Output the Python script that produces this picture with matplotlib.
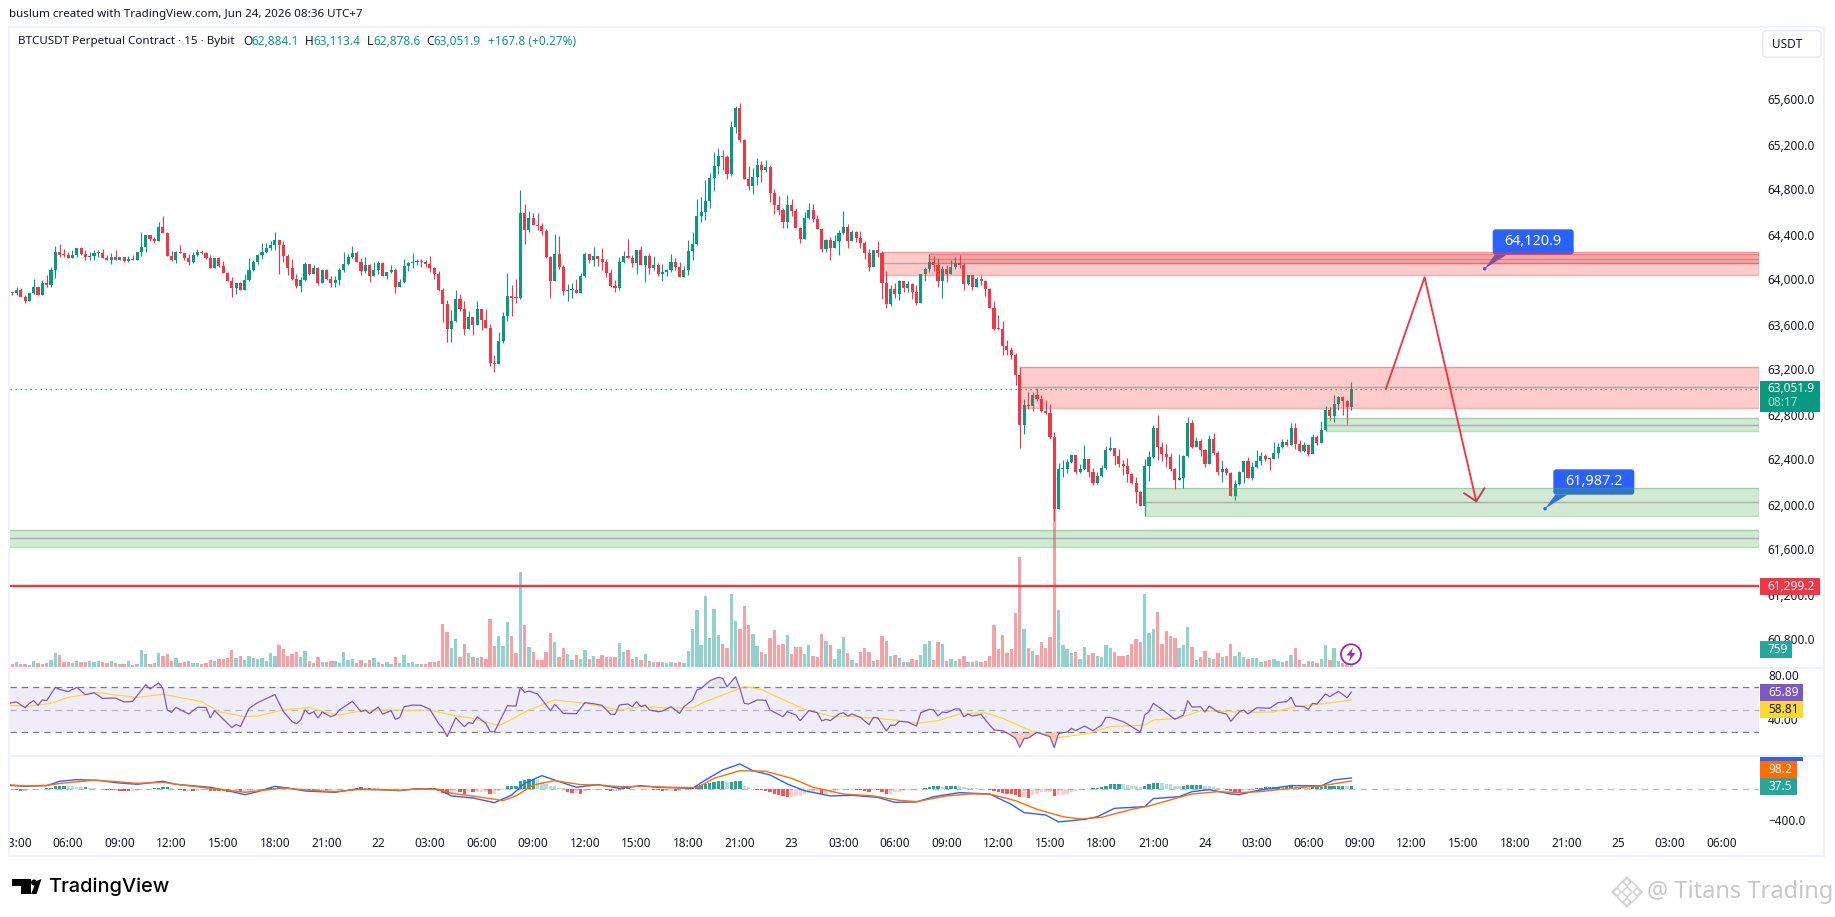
#!/usr/bin/python3
import numpy as np
import matplotlib
matplotlib.use("Agg")
import matplotlib.pyplot as plt
from matplotlib.patches import Rectangle, FancyBboxPatch, Polygon, Circle

plt.rcParams['font.family'] = ['Noto Sans', 'DejaVu Sans']

first_open = 63816
closes = [
 63896,63890,63920,63860,63822,63890,63946,63878,63982,63964,64097,64257,64231,64228,64207,64231,64290,64240,64216,64222,
 64246,64252,64207,64186,64213,64186,64213,64177,64195,64186,64257,64302,64406,64373,64355,64480,64429,64222,64186,64257,
 64246,64204,64169,64231,64257,64249,64204,64115,64204,64133,64071,64000,63937,63982,63920,64009,64097,64169,64231,64257,
 64293,64320,64364,64320,64222,64115,64017,63955,64009,64151,64062,64115,63982,64097,64017,63982,64009,64097,64151,64213,
 64249,64169,64089,64142,64044,64097,64160,64044,64080,64097,63946,63991,64133,64160,64169,64177,64169,64151,64115,64062,
 63920,63795,63573,63644,63840,63751,63573,63680,63609,63751,63653,63582,63271,63265,63466,63689,63866,63849,63845,64607,
 64453,64560,64497,64489,64444,64213,64000,64240,64124,63911,63920,63922,63893,64044,64240,64186,64222,64195,
 64169,64074,63956,63938,64169,64222,64205,64160,64276,64142,64222,64119,64142,64062,64080,64098,64169,64125,64036,64098,
 64267,64329,64578,64614,64711,64916,65022,65111,65102,64951,65369,65538,65254,64907,64845,64925,65031,64987,65014,64782,
 64676,64631,64525,64676,64622,64471,64374,64560,64631,64551,64462,64285,64365,64294,64356,64427,64480,64356,64436,64382,
 64338,64249,64125,64276,64249,63982,63796,63929,63885,64000,63938,63974,63902,63805,64062,64107,64169,64142,64000,64107,
 64062,64125,64160,64142,63974,64054,63947,64018,64000,63929,63760,63573,63570,63422,63387,63342,63165,
 62723,62898,62889,62987,62948,62845,62824,62614,61974,62329,62332,62391,62454,62302,62329,62418,62302,62205,62267,62338,
 62498,62516,62445,62374,62356,62285,62205,62125,62000,62356,62436,62694,62525,62462,62436,62329,62231,62249,62445,62738,
 62525,62578,62498,62374,62596,62471,62302,62329,62294,62089,62196,62302,62400,62249,62347,62400,62445,62418,62415,62471,
 62525,62569,62542,62694,62551,62489,62542,62462,62614,62560,62676,62854,62800,62907,62969,62934,62884.1,63040]
highs = [
 63896,63905,63943,63934,63875,63890,64014,63946,64009,64050,64121,64311,64329,64284,64254,64275,64290,64299,64275,64260,
 64275,64275,64284,64231,64246,64275,64213,64213,64222,64231,64257,64435,64412,64400,64388,64527,64577,64435,64266,64266,
 64320,64249,64240,64257,64284,64275,64257,64231,64204,64213,64177,64080,64035,63982,63991,64062,64204,64186,64240,64337,
 64337,64355,64435,64364,64355,64240,64195,64062,64035,64169,64151,64142,64124,64106,64106,64044,64044,64115,64257,64240,
 64311,64266,64204,64213,64151,64169,64177,64169,64080,64142,64115,64017,64195,64169,64249,64195,64195,64186,64222,64124,
 64089,63937,63831,63742,63920,63884,63822,63733,63680,63822,63751,63751,63617,63342,63546,63724,64071,63964,64017,64809,
 64684,64622,64601,64601,64518,64462,64222,64417,64400,64142,63973,63982,64017,64071,64257,64240,64302,64222,
 64294,64196,64107,64009,64214,64267,64374,64231,64276,64311,64231,64249,64222,64160,64151,64107,64240,64205,64169,64134,
 64365,64436,64729,64747,64898,64960,65147,65182,65165,65120,65422,65556,65582,65262,65022,65005,65094,65067,65076,65031,
 64818,64756,64649,64765,64729,64649,64480,64614,64694,64685,64587,64471,64374,64391,64409,64454,64622,64507,64454,64445,
 64445,64356,64285,64276,64356,64267,64089,63965,63982,64009,64000,64000,63982,63965,64062,64125,64240,64222,64205,64134,
 64142,64187,64214,64231,64160,64054,64054,64036,64054,64009,63938,63822,63698,63645,63476,63413,63360,
 63233,62948,63014,63014,63049,62987,62942,62907,62658,62382,62409,62418,62454,62454,62374,62542,62418,62338,62302,62365,
 62534,62614,62516,62507,62409,62427,62294,62258,62134,62418,62489,62720,62809,62569,62551,62471,62338,62462,62454,62791,
 62765,62614,62596,62507,62631,62649,62489,62409,62347,62302,62231,62311,62400,62436,62391,62498,62480,62462,62436,62569,
 62560,62596,62596,62738,62738,62587,62569,62542,62640,62631,62756,62889,62880,62987,62978,62978,62942,63102]
lows = [
 63816,63875,63875,63854,63807,63825,63887,63878,63878,63949,63949,64026,64210,64216,64207,64207,64216,64231,64186,64186,
 64186,64210,64207,64186,64151,64186,64186,64172,64169,64186,64186,64222,64257,64355,64340,64355,64429,64222,64180,64163,
 64246,64186,64142,64163,64222,64240,64195,64115,64115,64124,64071,64000,63857,63884,63920,63920,64000,64089,64151,64195,
 64249,64275,64275,64062,64169,64053,64009,63937,63902,64000,64053,64062,63964,63982,64009,63946,63946,63964,64080,64142,
 64204,64169,64053,64071,63991,64044,64062,64044,64017,64071,63893,63946,63982,64089,64115,64142,64124,64124,64080,64017,
 63911,63635,63457,63457,63635,63733,63520,63573,63520,63609,63564,63582,63244,63191,63262,63449,63644,63689,63804,63840,
 64329,64435,64497,64453,64409,64204,63849,64000,64106,63875,63822,63849,63893,63893,64035,64160,64133,64133,
 64098,64039,63947,63902,63920,64160,64205,64125,64062,64142,63991,64062,64098,64045,64000,64045,64080,64098,64036,64036,
 64054,64187,64320,64525,64542,64649,64800,64951,64987,64907,64934,65316,65236,64907,64809,64774,64854,64880,64969,64702,
 64596,64587,64471,64471,64578,64471,64338,64374,64551,64525,64462,64258,64258,64187,64294,64231,64418,64294,64356,64347,
 64294,64196,64089,64125,64214,63840,63760,63778,63849,63831,63902,63902,63840,63787,63805,64000,64080,64089,63947,63849,
 63991,64062,64107,64116,63920,63965,63920,63947,63965,63867,63760,63565,63565,63342,63342,63307,63076,
 62516,62640,62862,62848,62934,62833,62818,62596,61867,61974,62261,62294,62382,62285,62294,62320,62258,62187,62196,62258,
 62329,62489,62365,62347,62276,62213,62196,62027,62000,61911,62222,62427,62409,62400,62347,62311,62151,62231,62160,62436,
 62516,62525,62445,62347,62374,62454,62276,62213,62276,62089,62054,62187,62205,62249,62231,62338,62365,62400,62320,62418,
 62427,62516,62534,62542,62507,62480,62480,62445,62462,62542,62560,62667,62765,62747,62854,62809,62729,62850]
volume = [
 8,10,16,10,10,6,19,13,10,13,22,43,37,16,16,13,19,16,16,19,16,18,16,13,19,13,10,10,19,7,
 10,52,40,10,13,43,34,40,19,28,13,16,19,13,13,10,13,22,19,25,25,28,52,28,34,22,34,28,25,28,
 19,43,34,67,55,34,40,46,31,49,19,13,31,16,16,19,19,13,46,22,25,13,22,13,22,28,16,10,16,10,
 31,13,37,13,16,10,10,10,16,16,19,130,106,58,85,31,70,43,31,28,31,25,145,64,94,64,136,94,43,286,
 127,61,46,22,22,46,103,76,31,58,40,22,37,25,52,25,34,25,37,31,31,31,73,46,52,25,31,22,40,19,
 16,16,16,13,16,13,16,13,49,115,172,67,214,88,175,97,70,58,220,139,115,184,127,100,64,46,40,88,112,67,
 70,97,40,61,61,40,67,34,31,100,79,67,25,55,91,43,22,13,46,58,46,19,22,94,79,34,37,28,16,16,
 25,22,37,70,79,22,76,70,19,25,19,25,34,16,16,19,16,19,34,127,55,97,43,55,163,330,115,58,49,37,
 76,58,91,480,172,67,55,43,46,25,61,37,43,34,31,67,58,46,34,34,37,70,85,76,220,103,115,166,70,109,
 94,88,58,67,121,61,22,31,49,28,25,43,31,34,70,34,46,
 30,23,27,28,15,18,20,23,17,16,18,35,56,20,10,18,17,13,25,65,20,56,17,12,10,5]

rsi_idx = [0,2,4,5,6,7,8,9,11,12,14,16,18,20,22,25,27,29,32,33,35,36,37,38,39,42,44,46,47,48,52,53,54,56,58,62,64,66,67,68,69,70,71,72,73,75,76,77,80,82,83,84,86,87,89,90,91,92,94,96,98,100,101,102,104,106,107,108,109,111,112,113,116,118,119,120,121,123,126,127,129,132,134,136,138,140,141,142,
 144,145,146,147,148,149,151,152,154,156,157,159,160,161,163,165,166,167,169,170,171,172,174,176,177,180,181,183,184,186,188,189,190,191,193,194,195,196,198,200,201,202,204,205,206,207,209,211,212,214,215,216,217,218,220,221,222,223,224,226,227,229,231,233,234,235,236,237,239,242,243,244,246,247,248,250,252,254,255,256,259,260,263,264,265,266,268,269,271,273,274,275,277,278,279,281,283,284,286,
 287,288,290,293,295,297,298,299,301,302,303,304,306,307,309,311,312]
rsi = [55.9,57.1,52.0,55.9,58.3,54.1,58.9,58.3,70.1,68.3,66.3,70.1,63.6,65.4,60.3,60.6,57.1,57.7,72.5,68.6,74.0,69.2,50.0,47.9,52.3,46.4,52.3,52.3,42.9,49.4,34.3,37.2,35.2,51.4,56.5,63.6,48.5,39.6,37.8,41.1,50.0,46.4,48.5,42.9,48.2,44.0,45.5,50.0,57.7,48.5,50.0,47.0,52.6,46.4,49.4,41.7,43.4,52.9,54.4,54.1,50.6,38.1,33.7,26.3,42.9,35.2,38.7,38.1,44.0,38.1,30.7,30.7,53.8,53.5,70.1,65.7,66.9,64.2,49.4,55.0,47.0,46.7,56.5,55.6,54.1,46.1,46.1,54.4,
 55.3,52.9,57.4,52.9,54.4,50.0,48.5,49.1,52.9,47.0,52.9,58.9,67.7,69.2,76.0,79.0,78.1,70.7,79.6,69.2,55.9,55.3,58.9,58.6,50.0,44.0,48.5,45.5,40.5,49.4,47.6,40.2,41.7,40.5,46.4,47.6,44.6,46.4,43.4,36.9,43.4,43.2,31.3,36.6,36.3,39.9,39.3,35.7,47.6,50.6,50.0,44.6,48.2,47.6,50.9,50.9,44.0,46.4,44.6,46.1,41.1,32.2,31.6,27.4,24.8,16.8,24.8,25.1,30.1,26.3,16.5,29.2,30.4,33.7,31.6,35.7,31.6,36.6,43.4,43.4,39.6,37.5,30.4,45.5,48.5,55.9,50.6,47.6,41.7,45.5,58.3,52.6,52.9,48.2,53.5,48.2,46.4,39.9,48.5,
 50.0,46.4,52.0,51.5,56.5,57.4,61.2,53.5,52.9,50.6,55.9,55.3,64.2,61.8,66.6,60.9,65.89]
rsi_ma_idx = [0,5,10,14,21,25,30,36,45,49,55,58,64,70,74,77,81,85,90,93,98,103,108,114,117,121,127,134,142,147,154,159,162,167,171,175,181,185,191,197,206,211,216,221,227,231,238,244,251,256,264,266,272,277,286,290,294,299,305,312]
rsi_ma = [54.1,53.5,55.9,61.2,65.4,63.3,61.2,63.9,57.4,48.5,44.0,44.6,50.0,52.3,47.6,45.5,48.5,50.0,50.0,49.4,50.0,45.5,42.6,36.0,41.7,50.0,58.9,55.9,50.0,52.9,51.7,52.0,57.4,64.8,70.7,68.3,57.4,50.6,44.6,44.0,41.1,38.1,40.5,46.4,47.6,42.6,30.7,25.4,29.2,35.2,36.6,41.1,42.6,49.4,48.2,47.9,48.2,52.9,55.3,58.81]

macd_idx = [0,4,9,12,16,21,25,30,36,39,47,51,55,58,62,65,69,76,81,86,91,95,100,103,108,113,117,120,124,128,132,137,142,147,151,159,162,166,170,173,177,181,185,191,196,202,206,211,215,221,228,233,236,241,244,250,253,257,264,266,272,275,279,284,286,290,298,305,308,312]
macd = [45,33,41,95,115,107,78,58,95,58,21,-21,-70,-33,33,12,-25,-41,0,-8,-21,4,-4,-86,-111,-169,-74,70,165,91,21,54,8,41,21,8,111,235,309,226,173,62,-21,-86,-78,-103,-165,-160,-95,-45,-62,-189,-292,-321,-407,-375,-342,-239,-218,-119,-95,-33,-8,-62,-70,-20,42,38,112,135.7]
signal_idx = [0,4,9,13,20,25,30,36,41,49,55,60,64,70,76,81,86,91,95,100,103,109,115,118,122,127,133,137,142,148,153,160,164,170,176,182,187,194,201,207,211,218,223,228,234,239,245,249,254,261,265,271,275,281,286,291,298,305,312]
signal = [53,37,45,74,107,91,70,82,45,-4,-41,-12,12,-16,-33,-8,-8,-16,0,-8,-53,-95,-144,-86,49,103,54,49,29,33,21,16,132,226,218,132,21,-62,-86,-140,-156,-86,-62,-62,-144,-251,-342,-370,-350,-251,-210,-119,-62,-33,-45,-32,9,38,98.2]
macd_hist = [
 -8,-8,-16,-20,-20,-16,-8,-4,4,8, 16,32,36,40,36,32,28,24,24,16, 12,4,0,-12,-16,-16,-20,-24,-28,-28,
 -24,-8,4,4,8,16,20,20,12,-4, -16,-24,-24,-28,-28,-16,-12,-20,-24,-28, -28,-32,-32,-32,-36,-32,-28,-24,-12,-8,
 4,8,16,20,24,20,12,4,-4,-4, -8,-12,-12,-12,-16,-12,-12,-8,-8,0, 4,8,20,16,16,12,8,4,0,0,
 -4,-4,-12,-12,-16,-8,-4,0,8,12, -20,-48,-64,-48,-24,-32,-64,-24,-32,-32, -32,-32,-56,-56,-24,-16,40,40,40,100,
 112,120,128,112,88,56,40,32,16,8, -32,-48,-48,-56,-24,-16,-16,-8,4,-16, -24,-24,-24,8,8,0,4,-4,-4,-4,
 -12,-16,-20,-20,-20,-24,-20,-16,4,20, 32,48,56,72,88,96,100,88,88,100, 100,40,20,0,-8,-16,-24,-32,-56,-72,
 -88,-96,-96,-88,-88,-56,-48,-40,-24,-56, -56,-48,-24,-16,-12,-12,-8,-12,-16,-24, -32,-12,-16,-40,-56,-56,-40,-32,-24,-16,
 -12,-8,4,12,20,32,36,28,36,40, 40,32,24,16,12,8,4,0,-8,-24, -40,-48,-56,-68,-80,-104,-104,-112,-80,-64,
 -40,-32,-32,-88,-80,-72,-64,-40,-24,-8, -8,0,8,16,24,40,56,64,64,56, 48,40,32,24,40,56,72,80,72,64,
 56,40,32,32,48,48,48,48,40,32, 24,16,4,-8,-24,-32,-40,-16,-12,-8, 12,16,20,20,28,28,24,24,32,24,
 24,20,16,20,24,28,32,36,36,40,40,37.5,37.5]

# price zones: first candle, top, middle, bottom
red_zones = [(203,64262,64157,64049),(214,64237,64196,64157),(235,63233,63055,62868)]
green_zones = [(306,62779,62723,62670),(264,62157,62033,61908),(0,61784,61713,61633)]
path_idx = [320,329,341]
path_price = [63040,64033,62042]
head_idx = [338.2,341,342.9]
head_price = [62113,62042,62157]
support_line = 61287
price_ticks = [65600,65200,64800,64400,64000,63600,63200,62800,62400,62000,61600,61200,60800]
time_labels = ["03:00","06:00","09:00","12:00","15:00","18:00","21:00","22"]+["03:00","06:00","09:00","12:00","15:00","18:00","21:00","23"]+["03:00","06:00","09:00","12:00","15:00","18:00","21:00","24"]+["03:00","06:00","09:00","12:00","15:00","18:00","21:00","25","03:00","06:00"]

UP = '#089981'
DOWN = '#f23645'
TEXT = '#131722'
W, H = 1835, 917
L, R = 10, 1759
xlim = ((L-7.9)/4.306, (R-7.9)/4.306)

def rect(t, b, l=L, r=R):
    return [l/W, 1-b/H, (r-l)/W, (b-t)/H]

def pane(t, b, z, ylim):
    a = fig.add_axes(rect(t, b), zorder=z)
    a.set_xlim(*xlim)
    a.set_ylim(*ylim)
    a.axis('off')
    return a

fig = plt.figure(figsize=(W/100, H/100), dpi=100, facecolor='white')

# callouts sit under the zones
under = fig.add_axes([0, 0, 1, 1], zorder=0)
under.set_xlim(0, W)
under.set_ylim(H, 0)
under.axis('off')
for bx, by, dot, txt in [(1492.7, 229.3, (1484.7, 268.7), "64,120.9"), (1553.3, 469.3, (1545, 508.7), "61,987.2")]:
    under.add_patch(FancyBboxPatch((bx+3, by+3), 75, 19.4, boxstyle="round,pad=3,rounding_size=3", fc='#2962ff', ec='none'))
    under.add_patch(Polygon([dot, (bx+2, by+25.4), (bx+14, by+25.4)], fc='#2962ff', ec='none'))
    under.add_patch(Circle(dot, 1.8, fc='#2962ff', ec='none'))
    under.text(bx+40.5, by+12.4, txt, color='white', fontsize=10.4, fontweight='bold', ha='center', va='center')

closes = np.array(closes, float)
highs = np.array(highs, float)
lows = np.array(lows, float)
opens = np.r_[first_open, closes[:-1]]
volume = np.array(volume, float)
x = np.arange(len(closes))
up = closes >= opens

# volume shares the main pane
vol = pane(27, 667, 1, (0, 1920))
vol.bar(x, volume, width=0.78, color=np.where(up, '#92d2cc', '#f9a0a5'), lw=0)

ax = pane(27, 667, 2, (64000+(281-667)*8.889, 64000+(281-27)*8.889))
col = np.where(up, UP, DOWN)
ax.vlines(x, lows, highs, colors=col, lw=0.8, zorder=2)
body = np.maximum(np.abs(closes-opens), 9)
ax.bar(x, body, bottom=np.minimum(opens, closes), width=0.72, color=col, lw=0, zorder=3)
ax.plot(xlim, [closes[-1]]*2, color=UP, lw=0.9, ls=(0, (1, 3)), zorder=3)
ax.plot(xlim, [support_line]*2, color=DOWN, lw=1.7, zorder=4)

def zone(start, top, mid, bot, c, c2):
    w = xlim[1]-start
    ax.add_patch(Rectangle((start, bot), w, top-bot, fc=c, alpha=0.25, ec='none', zorder=5))
    ax.add_patch(Rectangle((start, bot), w, top-bot, fc='none', ec=c2, alpha=0.4, lw=1, zorder=5))
    ax.plot([start, xlim[1]], [mid, mid], color='#707070', alpha=0.45, lw=1, zorder=5)

for z in red_zones:
    zone(*z, '#ff3333', '#f23645')
for z in green_zones:
    zone(*z, '#4caf50', '#4caf50')

ax.plot(path_idx, path_price, color=DOWN, lw=1.35, zorder=6)
ax.plot(head_idx, head_price, color='#b8404f', lw=1.35, zorder=6)

# RSI
r = pane(668, 756, 2, (9.1, 87.3))
r.axhspan(30, 70, fc='#7e57c2', alpha=0.1, lw=0)
r.axhline(70, color='#787b86', lw=0.9, ls=(0, (5, 4)))
r.axhline(50, color='#787b86', alpha=0.5, lw=0.9, ls=(0, (5, 4)))
r.axhline(30, color='#787b86', lw=0.9, ls=(0, (5, 4)))
rsi_i = np.array(rsi_idx, float)
rsi_v = np.array(rsi, float)
r.fill_between(rsi_i, 70, rsi_v, where=rsi_v > 70, color='#9aa0a6', alpha=0.25, lw=0, interpolate=True)
r.fill_between(rsi_i, 30, rsi_v, where=rsi_v < 30, color='#f7a58c', alpha=0.55, lw=0, interpolate=True)
r.plot(rsi_ma_idx, rsi_ma, color='#fdd835', lw=0.9)
r.plot(rsi_i, rsi_v, color='#7e57c2', lw=0.9)

# MACD
m = pane(757, 826, 2, (-457, 395))
m.axhline(0, color='#787b86', alpha=0.5, lw=0.9, ls=(0, (5, 4)))
hist_col = []
prev = 0
for h in macd_hist:
    if h >= 0:
        hist_col.append('#26a69a' if h >= prev else '#b2dfdb')
    else:
        hist_col.append('#ff5252' if h < prev else '#ffcdd2')
    prev = h
m.bar(np.arange(len(macd_hist)), macd_hist, width=0.78, color=hist_col, lw=0)
m.plot(macd_idx, macd, color='#2962ff', lw=1.0)
m.plot(signal_idx, signal, color='#ff6d00', lw=1.0)

# time axis, its first label is cut by the left edge
t = fig.add_axes(rect(826, 856), zorder=2)
t.set_xlim(*xlim)
t.set_ylim(1, 0)
t.axis('off')
for i, lab in enumerate(time_labels):
    t.text(2+12*i, 0.57, lab, ha='center', va='center', fontsize=8.5, color=TEXT, clip_on=True,
           fontweight='bold' if lab == '22' else 'normal')

# everything in screen pixels from here on
top = fig.add_axes([0, 0, 1, 1], zorder=5)
top.patch.set_alpha(0)
top.set_xlim(0, W)
top.set_ylim(H, 0)
top.axis('off')

def label(px, py, s, c=TEXT, size=8.5, z=6, **kw):
    top.text(px, py, s, color=c, fontsize=size, va='center', zorder=z, **kw)

def tag(l, t0, r0, b0, c):
    top.add_patch(Rectangle((l, t0), r0-l, b0-t0, fc=c, ec='none', zorder=4))

frame = '#f0f3fa'
top.add_patch(Rectangle((9, 27), 1815, 829, fc='none', ec=frame, lw=1.6))
top.plot([9, 1824], [667.5, 667.5], color=frame, lw=1.5)
top.plot([9, 1824], [756, 756], color=frame, lw=1.5)

# tick labels stay behind the tags, as in the reference
for p in price_ticks:
    label(1767.7, 281-(p-64000)*0.1125, f"{p:,.1f}", z=3)
top.add_patch(FancyBboxPatch((1764.7, 32.7), 54.3, 22.6, boxstyle="round,pad=2,rounding_size=4", fc='white', ec='#e8eaf0', lw=1, zorder=4))
label(1772, 44.5, "USDT")

tag(1760, 381, 1820, 411.7, UP)
label(1767.7, 388.7, "63,051.9", 'white', fontweight='bold')
label(1767.7, 402.7, "08:17", '#a8dbd0')
tag(1760, 578, 1820, 595, DOWN)
label(1767.7, 586, "61,299.2", 'white', fontweight='bold')
tag(1760, 641, 1792, 657.7, '#26a69a')
label(1767.7, 649.3, "759", 'white')

label(1768, 676, "80.00", z=3)
label(1768, 720.7, "40.00", z=3)
tag(1760, 684, 1803, 701, '#7e57c2')
label(1768, 692.5, "65.89", 'white')
tag(1760, 701, 1803, 717.7, '#fdd835')
label(1768, 709.3, "58.81", TEXT)
tag(1760, 756.7, 1803, 760.7, '#2962ff')
tag(1760, 761, 1797, 777.7, '#ff6d00')
label(1768, 769.3, "98.2", 'white')
tag(1760, 778, 1797, 794.7, '#26a69a')
label(1768, 786.3, "37.5", 'white')
label(1768, 821.7, "\u2212400.0")

# bolt marker
top.add_patch(Circle((1351, 654.3), 10, fc='white', ec='#9c27b0', lw=1.3))
top.add_patch(Polygon([(1353, 647.5), (1346.5, 655.5), (1350.5, 655.5), (1349, 661), (1355.5, 653), (1351.5, 653)], fc='#9c27b0', ec='none'))

# header
label(9, 15, "buslum created with TradingView.com, Jun 24, 2026 08:36 UTC+7", size=8.35)
label(18, 41.5, "BTCUSDT Perpetual Contract \u00b7 15 \u00b7 Bybit", size=8.35)
for px, s, c in [(243, "O", TEXT), (251, "62,884.1", UP), (305, "H", TEXT), (313, "63,113.4", UP), (366.6, "L", TEXT), (373, "62,878.6", UP),
                 (426.7, "C", TEXT), (433.6, "63,051.9", UP), (487.5, "+167.8 (+0.27%)", UP)]:
    label(px, 41.5, s, c, size=8.5)

# footer logo
top.add_patch(Polygon([(12, 879), (30.5, 879), (30.5, 894), (21, 894), (21, 886), (12, 886)], fc='black', ec='none'))
top.add_patch(Circle((34, 882.5), 3, fc='black', ec='none'))
top.add_patch(Polygon([(41.5, 879), (36.5, 894), (31, 894), (36.5, 881)], fc='black', ec='none'))
top.text(48.5, 886.7, "TradingView", color='black', fontsize=14.4, fontweight='medium', va='center', family=['Inter', 'DejaVu Sans'])

# watermark
wm = '#d2d2d2'
for cx, cy, s in [(1627, 892, 15), (1627, 892, 5), (1627, 882, 4), (1617, 892, 4), (1637, 892, 4), (1627, 902, 4)]:
    top.add_patch(Polygon([(cx, cy-s), (cx+s, cy), (cx, cy+s), (cx-s, cy)], fc='none', ec=wm, lw=1.1))
top.text(1647, 891.5, "@ Titans Trading", color='#c8c8c8', fontsize=17, va='center')

fig.savefig('out.png', dpi=100)
